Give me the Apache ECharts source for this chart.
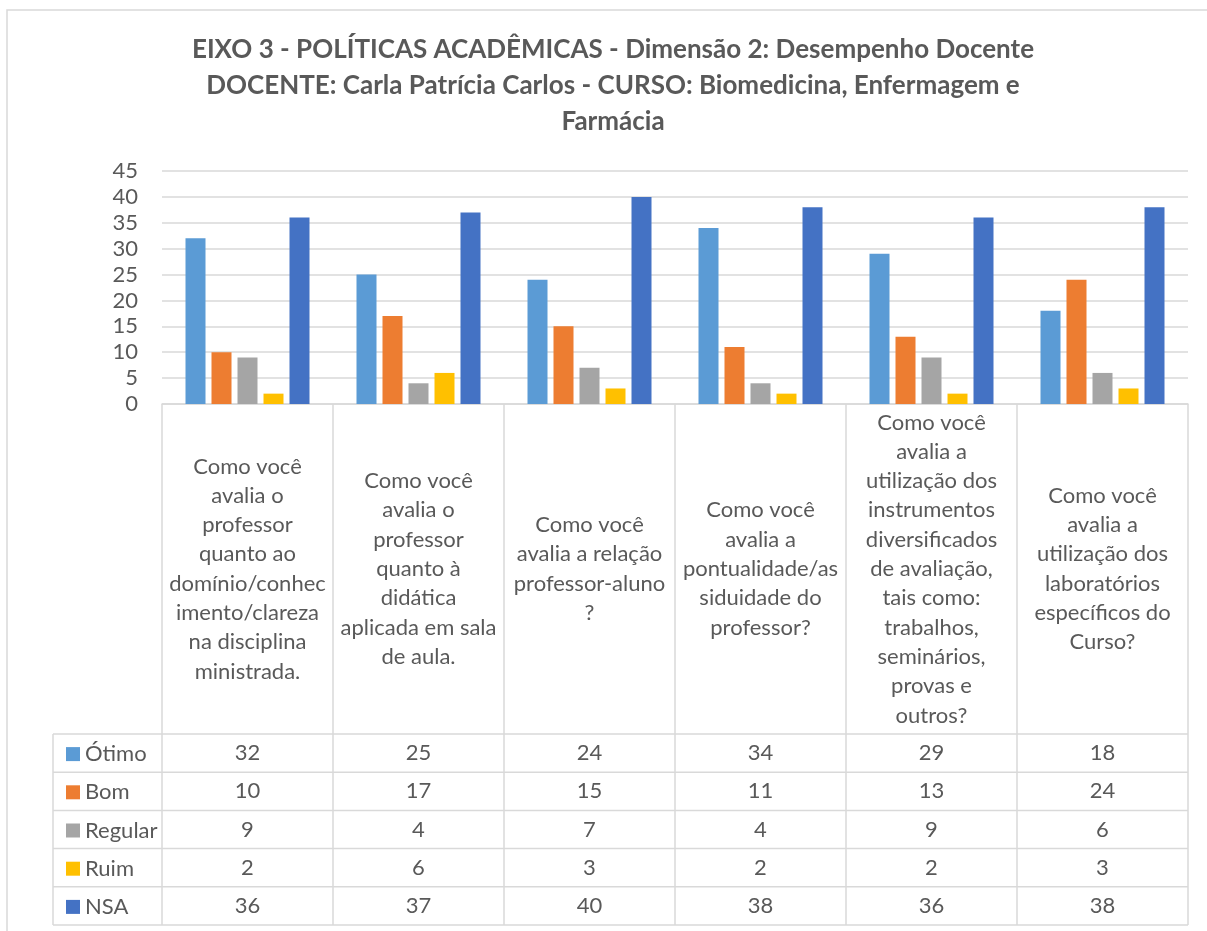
<!DOCTYPE html>
<html>
<head>
<meta charset="utf-8">
<script src="https://cdn.jsdelivr.net/npm/echarts@6/dist/echarts.min.js"></script>
<style>
html,body{margin:0;padding:0;background:#fff;}
#main{width:1207px;height:931px;}
</style>
</head>
<body>
<div id="main"></div>
<script>
var titleText = 'EIXO 3 - POLÍTICAS ACADÊMICAS - Dimensão 2: Desempenho Docente\nDOCENTE: Carla Patrícia Carlos - CURSO: Biomedicina, Enfermagem e\nFarmácia';

var categories = [
    'Como você\navalia o\nprofessor\nquanto ao\ndomínio/conhec\nimento/clareza\nna disciplina\nministrada.',
    'Como você\navalia o\nprofessor\nquanto à\ndidática\naplicada em sala\nde aula.',
    'Como você\navalia a relação\nprofessor-aluno\n?',
    'Como você\navalia a\npontualidade/as\nsiduidade do\nprofessor?',
    'Como você\navalia a\nutilização dos\ninstrumentos\ndiversificados\nde avaliação,\ntais como:\ntrabalhos,\nseminários,\nprovas e\noutros?',
    'Como você\navalia a\nutilização dos\nlaboratórios\nespecíficos do\nCurso?'
];

var seriesNames = ['Ótimo', 'Bom', 'Regular', 'Ruim', 'NSA'];
var otimo   = [32, 25, 24, 34, 29, 18];
var bom     = [10, 17, 15, 11, 13, 24];
var regular = [9, 4, 7, 4, 9, 6];
var ruim    = [2, 6, 3, 2, 2, 3];
var nsa     = [36, 37, 40, 38, 36, 38];
var seriesData = [otimo, bom, regular, ruim, nsa];
var colors = ['#5B9BD5', '#ED7D31', '#A5A5A5', '#FFC000', '#4472C4'];

var yTicks = [0, 5, 10, 15, 20, 25, 30, 35, 40, 45];

var font = 'Lato, "Noto Sans", sans-serif';
var textColor = '#595959';
var lineColor = '#d9d9d9';

// layout
var gridLeft = 162, gridRight = 1188, gridTop = 171, gridBottom = 404;
var tableTop = 734, rowH = 38.2, tableLeft = 53;
var legendFont = 22;

var myChart = echarts.init(document.getElementById('main'));

var xAxes = [{
    type: 'category',
    data: categories,
    axisLine: {lineStyle: {color: lineColor, width: 1.5}},
    axisTick: {show: true, interval: 0, length: tableTop + rowH * 5 - gridBottom, lineStyle: {color: lineColor, width: 1.5}},
    axisLabel: {
        interval: 0,
        color: textColor,
        fontFamily: font,
        fontSize: 22,
        lineHeight: 29.3,
        verticalAlign: 'middle',
        margin: (tableTop - gridBottom) / 2
    }
}];
// one extra axis per row of the data table
seriesData.forEach(function (vals, i) {
    xAxes.push({
        type: 'category',
        data: categories,
        position: 'bottom',
        offset: tableTop - gridBottom + rowH * i,
        axisLine: {show: false},
        axisTick: {show: false},
        axisLabel: {
            interval: 0,
            color: textColor,
            fontFamily: font,
            fontSize: 22,
            verticalAlign: 'middle',
            margin: rowH / 2,
            formatter: function (v, idx) { return String(vals[idx]); }
        }
    });
});

var tableLines = [];
for (var r = 0; r <= 5; r++) {
    tableLines.push({
        type: 'line',
        shape: {x1: tableLeft, y1: tableTop + rowH * r, x2: gridRight, y2: tableTop + rowH * r},
        style: {stroke: lineColor, lineWidth: 1.5}
    });
}
tableLines.push({
    type: 'line',
    shape: {x1: tableLeft, y1: tableTop, x2: tableLeft, y2: tableTop + rowH * 5},
    style: {stroke: lineColor, lineWidth: 1.5}
});
tableLines.push({
    type: 'rect',
    shape: {x: 7, y: 10, width: 1220, height: 940},
    style: {fill: null, stroke: lineColor, lineWidth: 1.5}
});

var option = {
    backgroundColor: '#fff',
    color: colors,
    animation: false,
    title: {
        text: titleText,
        left: 613,
        top: 32,
        padding: 0,
        textAlign: 'center',
        textStyle: {
            color: textColor,
            fontFamily: font,
            fontWeight: 'bold',
            fontSize: 26,
            lineHeight: 36
        }
    },
    legend: {
        data: seriesNames,
        orient: 'vertical',
        left: 61,
        top: tableTop + rowH / 2 - legendFont / 2 - 4,
        height: 200,
        icon: 'rect',
        itemWidth: 14,
        itemHeight: 14,
        itemGap: rowH - legendFont,
        textStyle: {color: textColor, fontFamily: font, fontSize: legendFont}
    },
    grid: {
        left: gridLeft,
        top: gridTop,
        width: gridRight - gridLeft,
        height: gridBottom - gridTop
    },
    xAxis: xAxes,
    yAxis: {
        type: 'value',
        min: yTicks[0],
        max: yTicks[yTicks.length - 1],
        interval: yTicks[1] - yTicks[0],
        axisLine: {show: false},
        axisTick: {show: false},
        axisLabel: {color: textColor, fontFamily: font, fontSize: 22, margin: 24},
        splitLine: {lineStyle: {color: lineColor, width: 1.5}}
    },
    series: seriesNames.map(function (name, i) {
        return {
            name: name,
            type: 'bar',
            xAxisIndex: 0,
            barWidth: 20,
            barGap: '30%',
            data: seriesData[i]
        };
    }),
    graphic: tableLines
};
myChart.setOption(option);
</script>
</body>
</html>
